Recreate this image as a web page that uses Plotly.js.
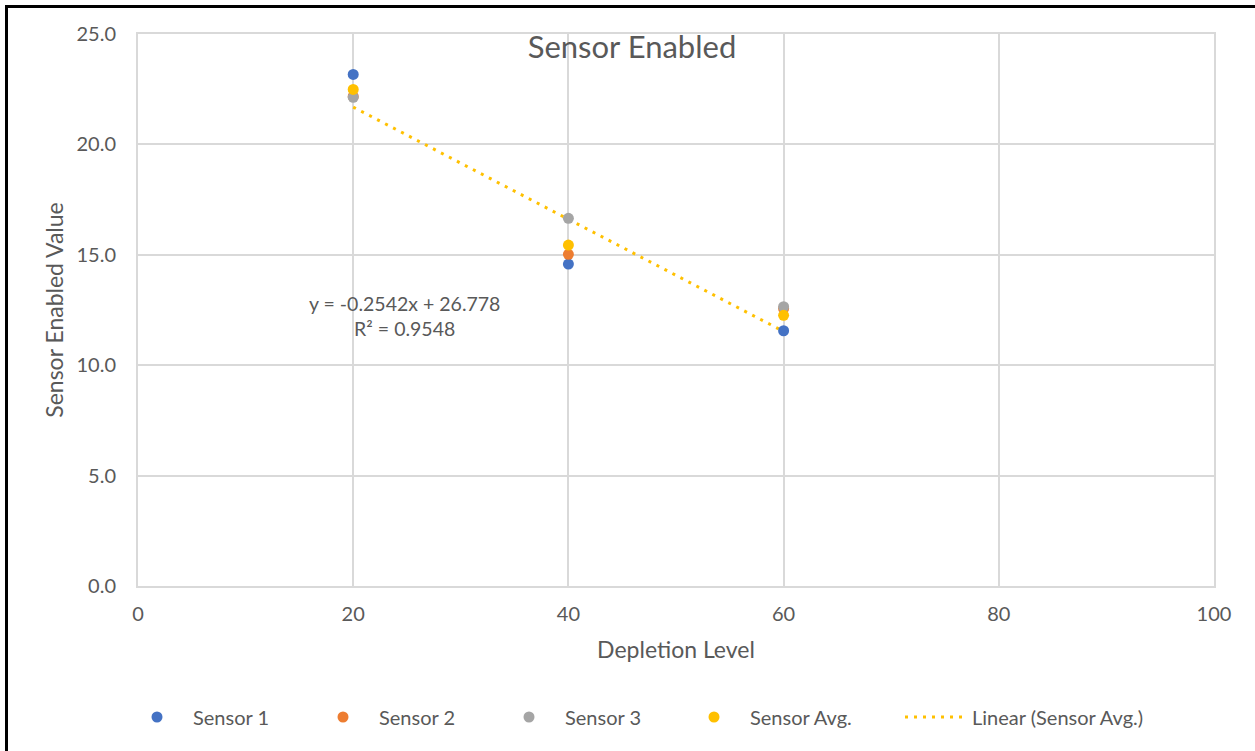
<!DOCTYPE html>
<html>
<head>
<meta charset="utf-8">
<script src="https://cdn.plot.ly/plotly-3.0.1.min.js"></script>
<style>
  html, body { margin: 0; padding: 0; background: #fff; }
  #wrap { position: relative; width: 1255px; height: 751px; overflow: hidden; }
  #chart { position: absolute; left: 0; top: 0; width: 1255px; height: 751px; }
  #frame { position: absolute; left: 5px; top: 5px; width: 1300px; height: 800px;
           border-left: 3px solid #000; border-top: 3px solid #000; pointer-events: none; }
</style>
</head>
<body>
<div id="wrap">
  <div id="chart"></div>
  <div id="frame"></div>
</div>
<script>
// ---- data ----
const depletion = [20, 40, 60];
const sensor1 = [23.17, 14.58, 11.56];
const sensor2 = [22.17, 15.02, 12.57];
const sensor3 = [22.13, 16.65, 12.65];
const sensorAvg = [22.49, 15.44, 12.26];
const trendX = [20, 60];
const trendY = [21.69, 11.53];
const equationText = 'y = -0.2542x + 26.778<br>R² = 0.9548';
const xTicks = [0, 20, 40, 60, 80, 100];
const yTicks = [0, 5, 10, 15, 20, 25];
const yTickLabels = ['0.0', '5.0', '10.0', '15.0', '20.0', '25.0'];

const FONT = 'Lato, "Open Sans", sans-serif';
const TXT = '#595959';
const GRID = '#d9d9d9';

function pts(name, y, color, lw) {
  return { type: 'scatter', mode: 'markers', name: name, x: depletion, y: y,
           marker: { color: color, size: 11 }, cliponaxis: false, legendwidth: lw };
}

const traces = [
  pts('Sensor 1', sensor1, '#4472C4', 109),
  pts('Sensor 2', sensor2, '#ED7D31', 109),
  pts('Sensor 3', sensor3, '#A5A5A5', 108),
  pts('Sensor Avg.', sensorAvg, '#FFC000', 145),
  { type: 'scatter', mode: 'lines', name: 'Linear (Sensor Avg.)', x: trendX, y: trendY,
    line: { color: '#FFC000', width: 3, dash: '3px,6px' } }
];

// draw trendline below markers, keep legend order
const order = [4, 0, 1, 2, 3];
const drawTraces = order.map(i => Object.assign({}, traces[i], { legendrank: i + 1 }));

const layout = {
  width: 1255, height: 751,
  margin: { l: 138, r: 41, t: 34, b: 165, autoexpand: false },
  paper_bgcolor: '#fff', plot_bgcolor: '#fff',
  font: { family: FONT, color: TXT, size: 20 },
  title: { text: 'Sensor Enabled', font: { family: FONT, size: 31, color: TXT },
           xref: 'container', yref: 'container', x: 632 / 1255, y: 1 - 47 / 751,
           xanchor: 'center', yanchor: 'middle' },
  xaxis: {
    range: [0, 100], tickvals: xTicks, ticktext: xTicks.map(String),
    showgrid: true, gridcolor: GRID, gridwidth: 2,
    showline: true, linecolor: GRID, linewidth: 2, mirror: true,
    zeroline: false, ticks: 'outside', ticklen: 9, tickcolor: 'rgba(0,0,0,0)',
    tickfont: { size: 20, color: TXT },
    title: { text: 'Depletion Level', font: { size: 23, color: TXT }, standoff: 18 }
  },
  yaxis: {
    range: [0, 25], tickvals: yTicks, ticktext: yTickLabels,
    showgrid: true, gridcolor: GRID, gridwidth: 2,
    showline: true, linecolor: GRID, linewidth: 2, mirror: true,
    zeroline: false, ticks: 'outside', ticklen: 16, tickcolor: 'rgba(0,0,0,0)',
    tickfont: { size: 20, color: TXT },
    title: { text: 'Sensor Enabled Value', font: { size: 23, color: TXT }, standoff: 6 }
  },
  legend: {
    orientation: 'h', x: (121 - 138) / 1076, xanchor: 'left', y: (586 - 717) / 552, yanchor: 'middle',
    font: { size: 20, color: TXT }, itemwidth: 62, traceorder: 'normal'
  },
  annotations: [{
    x: 24.8, y: 12.23, xref: 'x', yref: 'y', text: equationText, showarrow: false,
    align: 'center', font: { size: 19.5, color: TXT }
  }],
  showlegend: true
};

Plotly.newPlot('chart', drawTraces, layout, { displayModeBar: false, staticPlot: true });
</script>
</body>
</html>
